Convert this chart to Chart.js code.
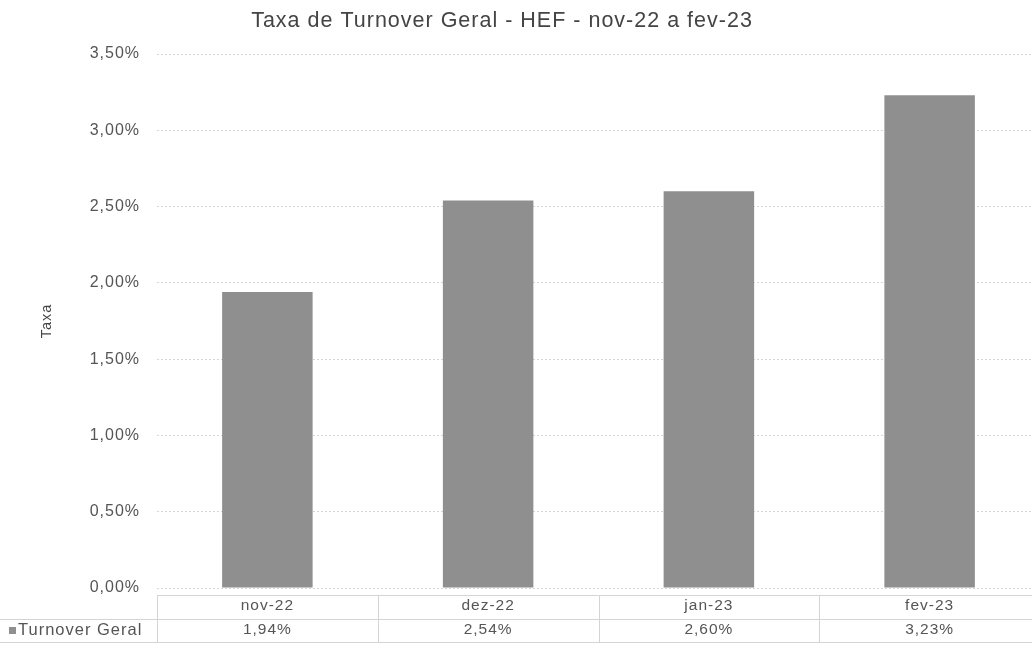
<!DOCTYPE html>
<html lang="pt">
<head>
    <meta charset="UTF-8">
    <title>Taxa de Turnover Geral - HEF</title>
    <script src="https://cdn.jsdelivr.net/npm/chart.js@4"></script>
    <style>
        html, body { margin: 0; padding: 0; background: #fff; overflow: hidden; }
        /* o gráfico original passa um pouco da borda direita */
        #wrap { width: 1040px; height: 648px; position: relative; }
    </style>
</head>
<body>
    <div id="wrap"><canvas id="turnover"></canvas></div>
    <script>
// dados
const meses = ["nov-22", "dez-22", "jan-23", "fev-23"];
const taxas = [1.94, 2.54, 2.60, 3.23];
const serieNome = "Turnover Geral";
const titulo = "Taxa de Turnover Geral - HEF - nov-22 a fev-23";
const yMax = 3.5;
const yStep = 0.5;

const cinzaBarra = "#8f8f8f";
const corTexto = "#555";
const fonte = "'Liberation Sans', Arial, sans-serif";

function fmtPct(v) {
    return v.toFixed(2).replace(".", ",") + "%";
}

// a imagem original é um pouco "esticada" na horizontal
const espacoPlugin = {
    id: "espaco",
    beforeLayout(chart) { chart.ctx.letterSpacing = "1px"; },
    beforeDraw(chart) { chart.ctx.letterSpacing = "1px"; }
};

// título (centrado na parte visível) + tabela de dados embaixo do gráfico
const tabelaPlugin = {
    id: "tabela",
    afterDraw(chart) {
        const ctx = chart.ctx;
        const area = chart.chartArea;
        const x = chart.scales.x;
        ctx.save();

        ctx.fillStyle = "#444";
        ctx.font = "21.5px " + fonte;
        ctx.textAlign = "center";
        ctx.textBaseline = "middle";
        ctx.fillText(titulo, 502, 21);

        const topo = area.bottom + 7;
        const meio = area.bottom + 31;
        const fundo = area.bottom + 54;
        const meia = (x.getPixelForValue(1) - x.getPixelForValue(0)) / 2;
        ctx.strokeStyle = "#d4d4d4";
        ctx.lineWidth = 1;
        ctx.beginPath();
        ctx.moveTo(area.left, topo + 0.5); ctx.lineTo(area.right, topo + 0.5);
        ctx.moveTo(0, meio + 0.5); ctx.lineTo(area.right, meio + 0.5);
        ctx.moveTo(0, fundo + 0.5); ctx.lineTo(area.right, fundo + 0.5);
        for (let i = 0; i < meses.length; i++) {
            const xl = Math.round(x.getPixelForValue(i) - meia) + 0.5;
            ctx.moveTo(xl, topo); ctx.lineTo(xl, fundo);
        }
        ctx.stroke();

        // legenda da série
        const yLeg = (meio + fundo) / 2;
        ctx.fillStyle = cinzaBarra;
        ctx.fillRect(9, Math.round(yLeg - 4), 7, 7);
        ctx.fillStyle = corTexto;
        ctx.font = "16.5px " + fonte;
        ctx.textAlign = "left";
        ctx.fillText(serieNome, 18, yLeg);
        ctx.restore();
    }
};

new Chart(document.getElementById("turnover"), {
    type: "bar",
    data: {
        labels: meses,
        datasets: [{
            label: serieNome,
            data: taxas,
            backgroundColor: cinzaBarra,
            borderWidth: 0,
            categoryPercentage: 1,
            barPercentage: 0.41
        }]
    },
    options: {
        responsive: true,
        maintainAspectRatio: false,
        animation: false,
        layout: { padding: { top: 54, left: 0, right: 0, bottom: 0 } },
        plugins: {
            legend: { display: false },
            tooltip: { enabled: false },
            title: { display: false }
        },
        scales: {
            x: {
                grid: { display: false, drawTicks: false },
                border: { display: false },
                ticks: {
                    color: corTexto,
                    font: { family: fonte, size: 15.5, lineHeight: 1.58 },
                    padding: 5,
                    callback: function (v, i) { return [meses[i], fmtPct(taxas[i])]; }
                },
                afterFit(s) { s.height = 60; }
            },
            y: {
                min: 0,
                max: yMax,
                grid: { color: "#d6d6d6", drawTicks: false },
                border: { display: false, dash: [2, 2] },
                ticks: {
                    stepSize: yStep,
                    color: corTexto,
                    font: { family: fonte, size: 16 },
                    padding: 17,
                    callback: v => fmtPct(v)
                },
                title: {
                    display: true,
                    text: "Taxa",
                    color: "#444",
                    font: { family: fonte, size: 14.5 },
                    padding: { top: 38, bottom: 0 }
                },
                afterFit(s) { s.width = 157; }
            }
        }
    },
    plugins: [espacoPlugin, tabelaPlugin]
});
    </script>
</body>
</html>
